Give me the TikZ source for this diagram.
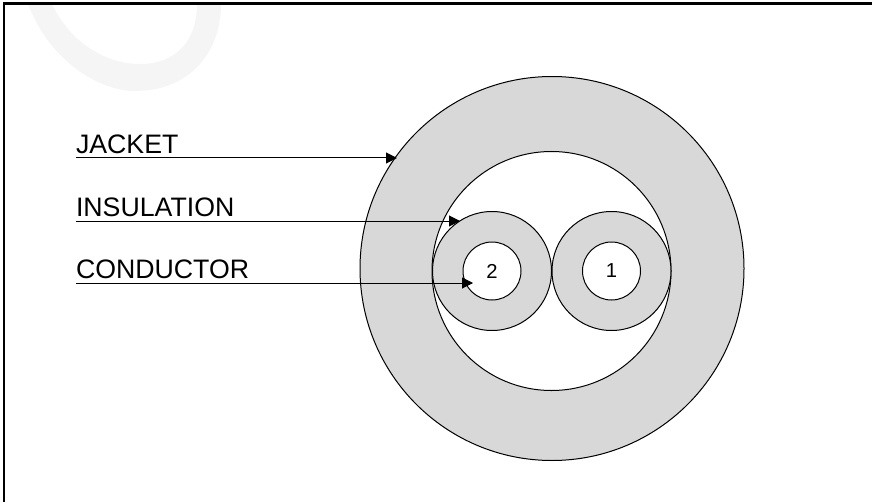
\documentclass[tikz,border=0pt]{standalone}
\usepackage{fontspec}
\setmainfont{Liberation Sans}
\usetikzlibrary{arrows.meta}
\tikzset{
  disc/.style={circle, draw=black, line width=0.02cm, inner sep=0pt, outer sep=0pt},
  lead/.style={line width=0.02cm, -{Triangle[length=0.22cm,width=0.22cm]}},
  tag/.style={anchor=south west, inner xsep=0pt, inner ysep=0.09cm, outer sep=0pt, font=\fontsize{15.2}{15.2}\selectfont},
  digit/.style={font=\fontsize{11.5}{12}\selectfont}
}
\definecolor{ringgray}{RGB}{216,216,216}
\definecolor{markgray}{RGB}{245,245,245}

\begin{document}
\begin{tikzpicture}
\useasboundingbox (0,0) rectangle (17.44,10.04);
% Mark behind the frame
\fill[markgray] (0.56,9.96) .. controls (1,8.8) and (2,8.22) .. (2.7,8.22)
  .. controls (3.8,8.22) and (4.42,9) .. (4.42,9.96) -- (3.94,9.96)
  .. controls (3.94,9.2) and (3.5,8.76) .. (2.8,8.76)
  .. controls (2.1,8.76) and (1.4,9.2) .. (1.04,9.96) -- cycle;
% Frame
\draw[line width=0.05cm] (0.08,0) -- (0.08,9.97) -- (17.44,9.97);
% Jacket
\node[disc, fill=ringgray, minimum size=7.68cm] (jacket) at (11.04,4.67) {};
\node[disc, fill=white, minimum size=4.78cm] (hollow) at (11.03,4.62) {};
% Insulation
\node[disc, fill=ringgray, minimum size=2.38cm] (insulationB) at (9.84,4.62) {};
\node[disc, fill=ringgray, minimum size=2.38cm] (insulationA) at (12.23,4.62) {};
% Conductors
\node[disc, digit, fill=white, minimum size=1.16cm] (conductorB) at (9.84,4.62) {2};
\node[disc, digit, fill=white, minimum size=1.16cm] (conductorA) at (12.23,4.62) {1};
% Labels
\node[tag] (jacketlabel) at (1.52,6.88) {JACKET};
\node[tag] (insulationlabel) at (1.52,5.62) {INSULATION};
\node[tag] (conductorlabel) at (1.52,4.38) {CONDUCTOR};
% Arrow ends
\coordinate (jackettip) at (7.94,6.88);
\coordinate (insulationtip) at (9.2,5.62);
\coordinate (conductortip) at (9.46,4.38);
% Arrows
\draw[lead] (jacketlabel.south west) -- (jackettip);
\draw[lead] (insulationlabel.south west) -- (insulationtip);
\draw[lead] (conductorlabel.south west) -- (conductortip);
\end{tikzpicture}
\end{document}
